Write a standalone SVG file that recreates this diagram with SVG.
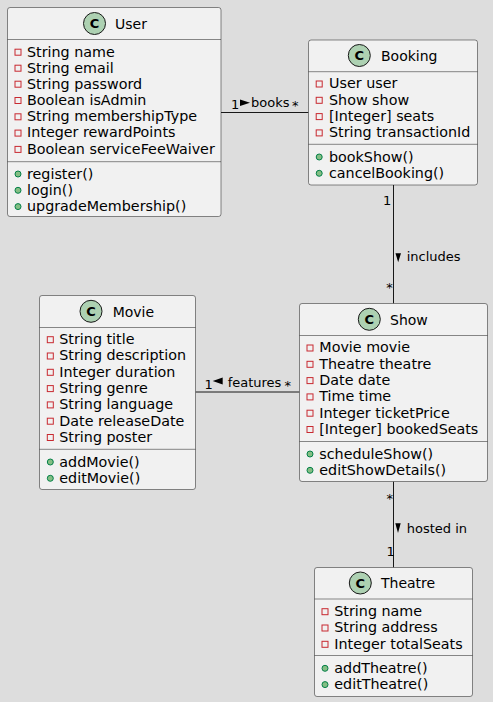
<svg xmlns="http://www.w3.org/2000/svg" width="493" height="702" viewBox="0 0 493 702">
<defs>
<style>
.bg{fill:#DDDDDD}
.box{fill:#F1F1F1;stroke:#181818;stroke-width:0.5}
.sep{stroke:#181818;stroke-width:0.5}
.ci{fill:#ADD1B2;stroke:#181818;stroke-width:1}
.cl{font-family:"DejaVu Sans",sans-serif;font-size:13px;font-weight:bold;fill:#000;text-anchor:middle}
.nm{font-family:"DejaVu Sans",sans-serif;font-size:14px;fill:#000}
.mb{font-family:"DejaVu Sans",sans-serif;font-size:14.3px;fill:#000}
.pv{fill:none;stroke:#C82930;stroke-width:1}
.pb{fill:#84BE84;stroke:#038048;stroke-width:1}
.edge{stroke:#181818;stroke-width:1;fill:none}
.lb{font-family:"DejaVu Sans",sans-serif;font-size:13px;fill:#000}
.tri{fill:#000}
</style>
</defs>
<rect class="bg" x="0" y="0" width="493" height="702"/>

<g id="connectors">
<line class="edge" x1="221" y1="112.5" x2="308.5" y2="112.5"/>
<text class="lb" x="231" y="108.5">1</text>
<polygon class="tri" points="240,99.5 250,102.8 240,106"/>
<text class="lb" x="251" y="106.5">books</text>
<text class="lb" x="292" y="110">*</text>

<line class="edge" x1="393.5" y1="185" x2="393.5" y2="303.5"/>
<text class="lb" x="383" y="205">1</text>
<polygon class="tri" points="395.5,253.3 401,253.3 398.2,262.3"/>
<text class="lb" x="406.7" y="261">includes</text>
<text class="lb" x="386.3" y="292">*</text>

<line class="edge" x1="195.5" y1="392" x2="299.5" y2="392"/>
<text class="lb" x="204.5" y="389">1</text>
<polygon class="tri" points="222.7,377.5 222.7,384.5 212.7,381"/>
<text class="lb" x="227.7" y="386.5">features</text>
<text class="lb" x="284.5" y="390">*</text>

<line class="edge" x1="393.5" y1="481.5" x2="393.5" y2="567.5"/>
<text class="lb" x="386.5" y="503">*</text>
<polygon class="tri" points="395.3,523.3 400.7,523.3 398,533"/>
<text class="lb" x="406.7" y="533">hosted in</text>
<text class="lb" x="386.5" y="556">1</text>
</g>

<g id="User">
<rect class="box" x="7.5" y="7.5" width="213.5" height="209" rx="2.5"/>
<circle class="ci" cx="94.5" cy="23.5" r="11"/>
<text class="cl" x="94.5" y="28">C</text>
<text class="nm" x="115" y="28.5">User</text>
<line class="sep" x1="7.5" y1="39.5" x2="221" y2="39.5"/>
<rect class="pv" x="15" y="49.2" width="6" height="6"/><text class="mb" x="27" y="56.7">String name</text>
<rect class="pv" x="15" y="65.2" width="6" height="6"/><text class="mb" x="27" y="72.5">String email</text>
<rect class="pv" x="15" y="81.2" width="6" height="6"/><text class="mb" x="27" y="88.6">String password</text>
<rect class="pv" x="15" y="97.5" width="6" height="6"/><text class="mb" x="27" y="104.7">Boolean isAdmin</text>
<rect class="pv" x="15" y="113.8" width="6" height="6"/><text class="mb" x="27" y="121">String membershipType</text>
<rect class="pv" x="15" y="130.1" width="6" height="6"/><text class="mb" x="27" y="137.3">Integer rewardPoints</text>
<rect class="pv" x="15" y="146.4" width="6" height="6"/><text class="mb" x="27" y="153.7">Boolean serviceFeeWaiver</text>
<line class="sep" x1="7.5" y1="161.7" x2="221" y2="161.7"/>
<circle class="pb" cx="18" cy="174" r="3"/><text class="mb" x="27" y="178.5">register()</text>
<circle class="pb" cx="18" cy="190.3" r="3"/><text class="mb" x="27" y="194.8">login()</text>
<circle class="pb" cx="18" cy="206.6" r="3"/><text class="mb" x="27" y="211.1">upgradeMembership()</text>
</g>

<g id="Booking">
<rect class="box" x="308.5" y="40" width="169" height="145" rx="2.5"/>
<circle class="ci" cx="359.3" cy="55.5" r="11"/>
<text class="cl" x="359.3" y="60">C</text>
<text class="nm" x="381" y="60.5">Booking</text>
<line class="sep" x1="308.5" y1="71.7" x2="477.5" y2="71.7"/>
<rect class="pv" x="316.2" y="81" width="6" height="6"/><text class="mb" x="329" y="88.3">User user</text>
<rect class="pv" x="316.2" y="97.3" width="6" height="6"/><text class="mb" x="329" y="104.6">Show show</text>
<rect class="pv" x="316.2" y="113.6" width="6" height="6"/><text class="mb" x="329" y="120.9">[Integer] seats</text>
<rect class="pv" x="316.2" y="129.9" width="6" height="6"/><text class="mb" x="329" y="137.2">String transactionId</text>
<line class="sep" x1="308.5" y1="144.3" x2="477.5" y2="144.3"/>
<circle class="pb" cx="319.2" cy="157" r="3"/><text class="mb" x="329" y="161.5">bookShow()</text>
<circle class="pb" cx="319.2" cy="173.3" r="3"/><text class="mb" x="329" y="177.8">cancelBooking()</text>
</g>

<g id="Movie">
<rect class="box" x="39.5" y="295.5" width="156" height="194" rx="2.5"/>
<circle class="ci" cx="91" cy="311.3" r="11"/>
<text class="cl" x="91" y="315.8">C</text>
<text class="nm" x="112.7" y="316.5">Movie</text>
<line class="sep" x1="39.5" y1="327.5" x2="195.5" y2="327.5"/>
<rect class="pv" x="47.3" y="336.7" width="6" height="6"/><text class="mb" x="59.3" y="344">String title</text>
<rect class="pv" x="47.3" y="353" width="6" height="6"/><text class="mb" x="59.3" y="360.3">String description</text>
<rect class="pv" x="47.3" y="369.3" width="6" height="6"/><text class="mb" x="59.3" y="376.6">Integer duration</text>
<rect class="pv" x="47.3" y="385.6" width="6" height="6"/><text class="mb" x="59.3" y="392.9">String genre</text>
<rect class="pv" x="47.3" y="401.9" width="6" height="6"/><text class="mb" x="59.3" y="409.2">String language</text>
<rect class="pv" x="47.3" y="418.2" width="6" height="6"/><text class="mb" x="59.3" y="425.5">Date releaseDate</text>
<rect class="pv" x="47.3" y="434.5" width="6" height="6"/><text class="mb" x="59.3" y="441.8">String poster</text>
<line class="sep" x1="39.5" y1="449.3" x2="195.5" y2="449.3"/>
<circle class="pb" cx="50.3" cy="462" r="3"/><text class="mb" x="59.3" y="466.5">addMovie()</text>
<circle class="pb" cx="50.3" cy="478.3" r="3"/><text class="mb" x="59.3" y="482.8">editMovie()</text>
</g>

<g id="Show">
<rect class="box" x="299.5" y="303.5" width="188" height="178" rx="2.5"/>
<circle class="ci" cx="369.3" cy="319.3" r="11"/>
<text class="cl" x="369.3" y="323.8">C</text>
<text class="nm" x="390" y="324.5">Show</text>
<line class="sep" x1="299.5" y1="335.5" x2="487.5" y2="335.5"/>
<rect class="pv" x="307" y="345" width="6" height="6"/><text class="mb" x="319.3" y="352.3">Movie movie</text>
<rect class="pv" x="307" y="361.3" width="6" height="6"/><text class="mb" x="319.3" y="368.6">Theatre theatre</text>
<rect class="pv" x="307" y="377.6" width="6" height="6"/><text class="mb" x="319.3" y="384.9">Date date</text>
<rect class="pv" x="307" y="393.9" width="6" height="6"/><text class="mb" x="319.3" y="401.2">Time time</text>
<rect class="pv" x="307" y="410.2" width="6" height="6"/><text class="mb" x="319.3" y="417.5">Integer ticketPrice</text>
<rect class="pv" x="307" y="426.5" width="6" height="6"/><text class="mb" x="319.3" y="433.8">[Integer] bookedSeats</text>
<line class="sep" x1="299.5" y1="441.5" x2="487.5" y2="441.5"/>
<circle class="pb" cx="310" cy="454" r="3"/><text class="mb" x="319.3" y="458.5">scheduleShow()</text>
<circle class="pb" cx="310" cy="470.3" r="3"/><text class="mb" x="319.3" y="474.8">editShowDetails()</text>
</g>

<g id="Theatre">
<rect class="box" x="314.5" y="567.5" width="158" height="129" rx="2.5"/>
<circle class="ci" cx="360.3" cy="583" r="11"/>
<text class="cl" x="360.3" y="587.5">C</text>
<text class="nm" x="381" y="588">Theatre</text>
<line class="sep" x1="314.5" y1="599" x2="472.5" y2="599"/>
<rect class="pv" x="322" y="608.7" width="6" height="6"/><text class="mb" x="334.3" y="616">String name</text>
<rect class="pv" x="322" y="625" width="6" height="6"/><text class="mb" x="334.3" y="632.3">String address</text>
<rect class="pv" x="322" y="641.3" width="6" height="6"/><text class="mb" x="334.3" y="648.6">Integer totalSeats</text>
<line class="sep" x1="314.5" y1="655.5" x2="472.5" y2="655.5"/>
<circle class="pb" cx="325" cy="668.3" r="3"/><text class="mb" x="334.3" y="672.8">addTheatre()</text>
<circle class="pb" cx="325" cy="684.6" r="3"/><text class="mb" x="334.3" y="689.1">editTheatre()</text>
</g>
</svg>
